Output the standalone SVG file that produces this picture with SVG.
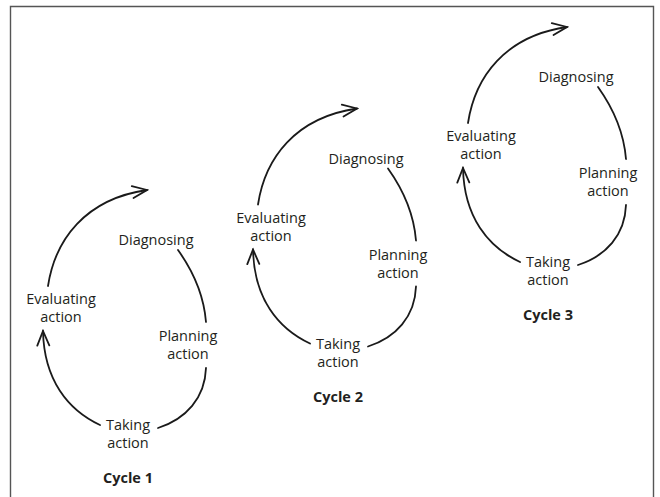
<svg xmlns="http://www.w3.org/2000/svg" width="660" height="497" viewBox="0 0 660 497">
  <style>
    .lbl { font-family: "Open Sans", Lato, "Liberation Sans", sans-serif; font-size: 14.5px; fill: #231f20; text-anchor: middle; }
    .ttl { font-family: "Open Sans", Lato, "Liberation Sans", sans-serif; font-size: 14.5px; font-weight: bold; fill: #231f20; text-anchor: middle; }
    .arc { fill: none; stroke: #1a1a1a; stroke-width: 1.8; stroke-linecap: round; }
    .frame { fill: none; stroke: #555; stroke-width: 1.4; }
  </style>
  <defs>
    <marker id="open" markerUnits="userSpaceOnUse" viewBox="-16 -8 18 16" refX="0" refY="0" markerWidth="18" markerHeight="16" orient="auto">
      <path d="M-14.5,-6 L0,0 L-14.5,6" fill="none" stroke="#1a1a1a" stroke-width="1.8" stroke-linecap="round" stroke-linejoin="miter"/>
    </marker>
  </defs>
  <rect width="660" height="497" fill="#ffffff"/>
  <path class="frame" d="M10.5,497 V6.5 H653.5 V497"/>

  <g id="connectors">
    <g id="c1-arcs">
      <path class="arc" d="M48,286 C55,240 85,199 147,190" marker-end="url(#open)"/>
      <path class="arc" d="M178,250 Q203,285 206,322"/>
      <path class="arc" d="M206,368 C205,398 186,419 158,428"/>
      <path class="arc" d="M100,425 C68,410 44,380 43,331" marker-end="url(#open)"/>
    </g>
    <g id="c2-arcs" transform="translate(210,-81.5)">
      <path class="arc" d="M48,286 C55,240 85,199 147,190" marker-end="url(#open)"/>
      <path class="arc" d="M178,250 Q203,285 206,322"/>
      <path class="arc" d="M206,368 C205,398 186,419 158,428"/>
      <path class="arc" d="M100,425 C68,410 44,380 43,331" marker-end="url(#open)"/>
    </g>
    <g id="c3-arcs" transform="translate(420,-163)">
      <path class="arc" d="M48,286 C55,240 85,199 147,190" marker-end="url(#open)"/>
      <path class="arc" d="M178,250 Q203,285 206,322"/>
      <path class="arc" d="M206,368 C205,398 186,419 158,428"/>
      <path class="arc" d="M100,425 C68,410 44,380 43,331" marker-end="url(#open)"/>
    </g>
  </g>

  <g id="cycle1">
    <g id="c1-diagnosing"><text class="lbl" x="156" y="245">Diagnosing</text></g>
    <g id="c1-planning"><text class="lbl" x="188" y="341">Planning</text><text class="lbl" x="188" y="359">action</text></g>
    <g id="c1-taking"><text class="lbl" x="128" y="430">Taking</text><text class="lbl" x="128" y="448">action</text></g>
    <g id="c1-evaluating"><text class="lbl" x="61" y="304">Evaluating</text><text class="lbl" x="61" y="322">action</text></g>
    <g id="c1-title"><text class="ttl" x="128" y="483">Cycle 1</text></g>
  </g>
  <g id="cycle2" transform="translate(210,-81.5)">
    <g id="c2-diagnosing"><text class="lbl" x="156" y="245">Diagnosing</text></g>
    <g id="c2-planning"><text class="lbl" x="188" y="341">Planning</text><text class="lbl" x="188" y="359">action</text></g>
    <g id="c2-taking"><text class="lbl" x="128" y="430">Taking</text><text class="lbl" x="128" y="448">action</text></g>
    <g id="c2-evaluating"><text class="lbl" x="61" y="304">Evaluating</text><text class="lbl" x="61" y="322">action</text></g>
    <g id="c2-title"><text class="ttl" x="128" y="483">Cycle 2</text></g>
  </g>
  <g id="cycle3" transform="translate(420,-163)">
    <g id="c3-diagnosing"><text class="lbl" x="156" y="245">Diagnosing</text></g>
    <g id="c3-planning"><text class="lbl" x="188" y="341">Planning</text><text class="lbl" x="188" y="359">action</text></g>
    <g id="c3-taking"><text class="lbl" x="128" y="430">Taking</text><text class="lbl" x="128" y="448">action</text></g>
    <g id="c3-evaluating"><text class="lbl" x="61" y="304">Evaluating</text><text class="lbl" x="61" y="322">action</text></g>
    <g id="c3-title"><text class="ttl" x="128" y="483">Cycle 3</text></g>
  </g>
</svg>
